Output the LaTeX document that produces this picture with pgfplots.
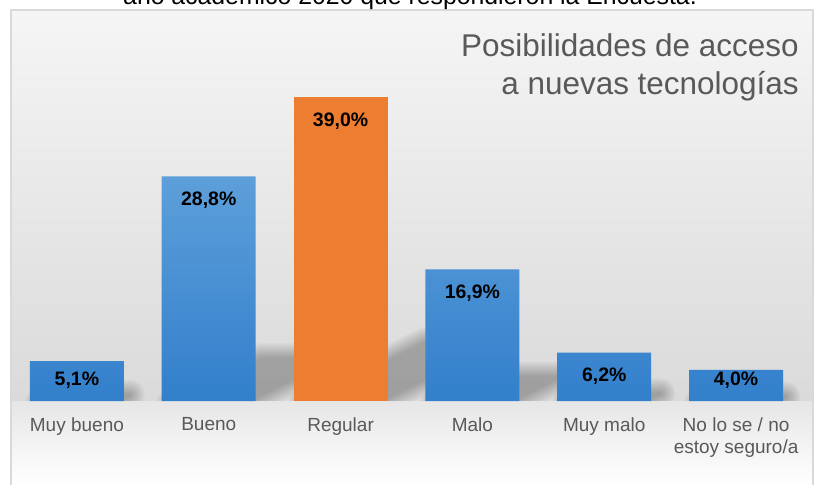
\documentclass[border=0pt]{standalone}
\usepackage{pgfplots}
\pgfplotsset{compat=1.18}
\usepackage{fontspec}
\setmainfont{Liberation Sans}
\definecolor{txtgray}{HTML}{595959}
\definecolor{barTop}{HTML}{5D9FDA}
\definecolor{barBot}{HTML}{327FCB}
\definecolor{orangeBar}{HTML}{ED7D31}
\definecolor{frameGray}{HTML}{D9D9D9}
\definecolor{bgTop}{HTML}{F5F5F5}
\definecolor{bgMid}{HTML}{DADADA}
\definecolor{bgLow}{HTML}{E6E6E6}
\begin{document}
\begin{tikzpicture}[x=0.75pt,y=-0.75pt]
\useasboundingbox (0,0) rectangle (815,485);
\shade[top color=bgTop, bottom color=bgMid] (11,10) rectangle (813,401);
\shade[top color=bgLow, bottom color=white] (11,401) rectangle (813,485);
% soft perspective shadows behind the bars (decoration)
\begin{scope}
\clip (11,10) rectangle (813,400);
\foreach \xl/\h in {29.9/39.8, 161.7/224.5, 293.6/304.0, 425.4/131.7, 557.2/48.3, 689.1/31.2}{
  \foreach \w in {0.5,2.5,...,22.5}{
    \begin{scope}[transparency group, opacity=0.024]
    \filldraw[black, line width=\w pt, line join=round]
      (\xl+10,403) -- (\xl+84,403) -- (\xl+84+0.4*\h,403-0.2*\h) -- (\xl+10+0.4*\h,403-0.2*\h) -- cycle;
    \end{scope}
  }
}
\end{scope}
\draw[frameGray, line width=1.5pt] (11,490) -- (11,10) -- (813,10) -- (813,490);
\node[anchor=base, inner sep=0pt, font=\fontsize{18.6}{22}\selectfont] at (410,5) {año académico 2020 que respondieron la Encuesta.};
\node[anchor=base east, inner sep=0pt, text=txtgray, font=\fontsize{23.6}{27}\selectfont] at (799,57) {Posibilidades de acceso};
\node[anchor=base east, inner sep=0pt, text=txtgray, font=\fontsize{23.6}{27}\selectfont] at (799,95) {a nuevas tecnologías};
\begin{axis}[
  at={(8.25pt,-300.75pt)}, anchor=south west,
  scale only axis, width=593.25pt, height=291.75pt,
  xmin=-0.5, xmax=5.5, ymin=0, ymax=49.9,
  axis line style={draw=none}, major tick length=0pt,
  ytick=\empty, xtick={0,1,2,3,4,5},
  xticklabels={Muy bueno, Bueno, Regular, Malo, Muy malo, {No lo se / no\\estoy seguro/a}},
  xticklabel style={font=\fontsize{14.25}{17}\selectfont, text=txtgray, align=center, anchor=north, inner sep=0pt, yshift=-12pt},
  /pgf/number format/assume math mode=true,
  clip=false,
]
\addplot[ybar, bar width=70.5pt, bar shift=0pt, draw=none, top color=barTop, bottom color=barBot]
  coordinates {(0,5.1) (1,28.8) (3,16.9) (4,6.2) (5,4.0)};
\addplot[ybar, bar width=70.5pt, bar shift=0pt, draw=none, fill=orangeBar]
  coordinates {(2,39.0)};
% value labels: y = label position inside the bar, meta = value
\addplot[draw=none, mark=none, point meta=explicit,
  nodes near coords={\pgfmathprintnumber[fixed, fixed zerofill, precision=1, use comma, assume math mode=true]{\pgfplotspointmeta}\%},
  every node near coord/.append style={font=\bfseries\fontsize{14.6}{17}\selectfont, text=black, anchor=center}]
  coordinates {(0,2.69) [5.1] (1,25.72) [28.8] (2,35.92) [39.0] (3,13.82) [16.9] (4,3.12) [6.2] (5,2.69) [4.0]};
\end{axis}
\end{tikzpicture}
\end{document}
